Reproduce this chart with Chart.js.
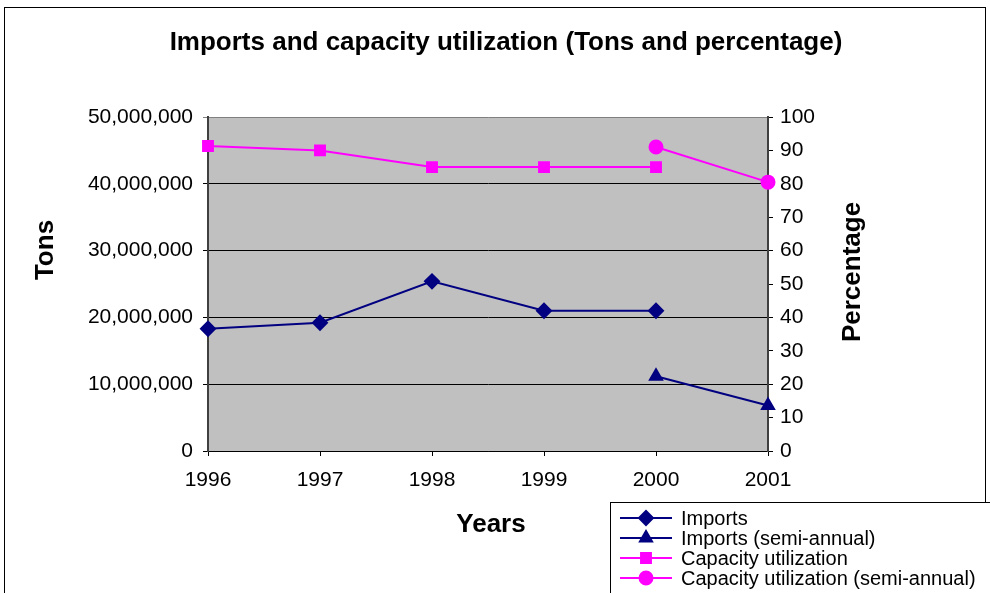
<!DOCTYPE html>
<html>
<head>
<meta charset="utf-8">
<script src="https://cdn.jsdelivr.net/npm/chart.js@4/dist/chart.umd.min.js"></script>
<style>
  html, body { margin: 0; padding: 0; background: #fff; }
  canvas { display: block; }
</style>
</head>
<body>
<canvas id="chart" width="990" height="593"></canvas>
<script>
// data
const years = ['1996', '1997', '1998', '1999', '2000', '2001'];
const imports = [18300000, 19200000, 25400000, 21000000, 21000000, null];
const importsSemi = [null, null, null, null, 11200000, 6800000];
const capacity = [91.3, 90, 85, 85, 85, null];
const capacitySemi = [null, null, null, null, 91, 80.5];

const NAVY = '#000080';
const MAGENTA = '#FF00FF';
const FONT = 'Arial, "Liberation Sans", sans-serif';

// plot background, frame, titles and the boxed legend
const decorations = {
  id: 'decorations',
  beforeDraw(chart) {
    const { ctx, chartArea: a } = chart;
    ctx.save();
    ctx.fillStyle = '#fff';
    ctx.fillRect(0, 0, chart.width, chart.height);
    ctx.fillStyle = '#C0C0C0';
    ctx.fillRect(a.left, a.top, a.right - a.left, a.bottom - a.top);
    ctx.strokeStyle = '#000';
    ctx.lineWidth = 1;
    ctx.strokeRect(4.5, 7.5, 981, 600);
    ctx.restore();
  },
  afterDraw(chart) {
    const { ctx } = chart;
    ctx.save();
    ctx.fillStyle = '#000';
    ctx.textAlign = 'center';
    ctx.textBaseline = 'middle';
    ctx.font = 'bold 26px ' + FONT;
    ctx.fillText('Imports and capacity utilization (Tons and percentage)', 506, 43);
    ctx.font = 'bold 26px ' + FONT;
    ctx.fillText('Years', 491, 525);
    ctx.save();
    ctx.translate(46, 250);
    ctx.rotate(-Math.PI / 2);
    ctx.fillText('Tons', 0, 0);
    ctx.restore();
    ctx.save();
    ctx.translate(853, 272);
    ctx.rotate(-Math.PI / 2);
    ctx.fillText('Percentage', 0, 0);
    ctx.restore();

    // legend box
    ctx.fillStyle = '#fff';
    ctx.fillRect(610, 502, 400, 100);
    ctx.strokeStyle = '#000';
    ctx.lineWidth = 1;
    ctx.strokeRect(610.5, 502.5, 400, 100);
    const rows = [518, 538, 558, 578];
    chart.data.datasets.forEach((ds, i) => {
      const y = rows[i];
      ctx.strokeStyle = ds.borderColor;
      ctx.lineWidth = 2;
      ctx.beginPath();
      ctx.moveTo(620, y);
      ctx.lineTo(672, y);
      ctx.stroke();
      Chart.helpers.drawPoint(ctx, {
        pointStyle: ds.pointStyle,
        radius: ds.pointRadius,
        rotation: 0,
        borderWidth: 1
      }, 646, y);
      ctx.fillStyle = ds.borderColor;
      ctx.fill();
      ctx.fillStyle = '#000';
      ctx.font = '20px ' + FONT;
      ctx.textAlign = 'left';
      ctx.fillText(ds.label, 681, y + 1);
    });
    ctx.restore();
  }
};

const ctx = document.getElementById('chart').getContext('2d');
const chart = new Chart(ctx, {
  type: 'line',
  data: {
    labels: years,
    datasets: [
      {
        label: 'Imports',
        data: imports,
        yAxisID: 'y',
        borderColor: NAVY,
        backgroundColor: NAVY,
        pointBackgroundColor: NAVY,
        pointBorderColor: NAVY,
        pointStyle: 'rectRot',
        pointRadius: 7,
        borderWidth: 2,
        clip: false,
      },
      {
        label: 'Imports (semi-annual)',
        data: importsSemi,
        yAxisID: 'y',
        borderColor: NAVY,
        backgroundColor: NAVY,
        pointBackgroundColor: NAVY,
        pointBorderColor: NAVY,
        pointStyle: 'triangle',
        pointRadius: 7,
        borderWidth: 2,
        clip: false,
      },
      {
        label: 'Capacity utilization',
        data: capacity,
        yAxisID: 'y1',
        borderColor: MAGENTA,
        backgroundColor: MAGENTA,
        pointBackgroundColor: MAGENTA,
        pointBorderColor: MAGENTA,
        pointStyle: 'rect',
        pointRadius: 7,
        borderWidth: 2,
        clip: false,
      },
      {
        label: 'Capacity utilization (semi-annual)',
        data: capacitySemi,
        yAxisID: 'y1',
        borderColor: MAGENTA,
        backgroundColor: MAGENTA,
        pointBackgroundColor: MAGENTA,
        pointBorderColor: MAGENTA,
        pointStyle: 'circle',
        pointRadius: 6.5,
        borderWidth: 2,
        clip: false,
      },
    ],
  },
  options: {
    responsive: false,
    animation: false,
    spanGaps: false,
    layout: { padding: { top: 117, left: 0, right: 0, bottom: 0 } },
    plugins: {
      legend: { display: false },
      title: { display: false },
      tooltip: { enabled: false },
    },
    scales: {
      x: {
        offset: false,
        afterFit: (s) => { s.height = 142; },
        border: { color: '#000', width: 1 },
        grid: {
          drawOnChartArea: false,
          drawTicks: true,
          tickLength: 5,
          color: '#000',
        },
        ticks: {
          color: '#000',
          padding: 12,
          maxRotation: 0,
          font: { family: FONT, size: 21 },
        },
      },
      y: {
        position: 'left',
        min: 0,
        max: 50000000,
        afterFit: (s) => { s.width = 208; },
        border: { color: '#404040', width: 2 },
        grid: {
          drawOnChartArea: true,
          tickLength: 5,
          color: (c) => (c.tick && c.tick.value === 50000000 ? '#808080' : '#000'),
        },
        ticks: {
          stepSize: 10000000,
          color: '#000',
          padding: 10,
          font: { family: FONT, size: 21 },
          callback: (v) => v.toLocaleString('en-US'),
        },
      },
      y1: {
        position: 'right',
        min: 0,
        max: 100,
        afterFit: (s) => { s.width = 222; },
        border: { color: '#404040', width: 2 },
        grid: {
          drawOnChartArea: false,
          tickLength: 5,
          color: '#000',
        },
        ticks: {
          stepSize: 10,
          color: '#000',
          padding: 7,
          font: { family: FONT, size: 21 },
        },
      },
    },
  },
  plugins: [decorations],
});
</script>
</body>
</html>
